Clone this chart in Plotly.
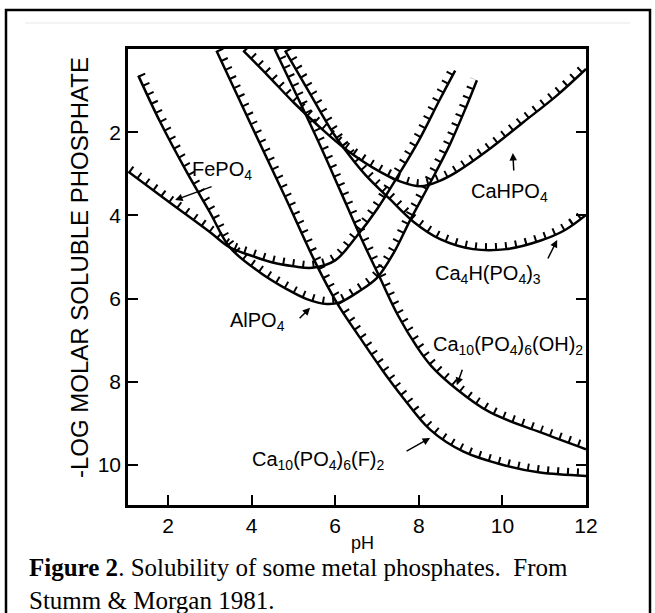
import numpy as np
import plotly.graph_objects as go

# curves: pH vs -log molar soluble phosphate
ph_fepo4 = [1.05, 2.0, 3.0, 3.48, 4.0, 4.5, 5.0, 5.45, 6.0, 6.5, 7.0, 7.5, 8.0, 8.5, 8.87]
y_fepo4 = [2.95, 3.66, 4.4, 4.77, 4.97, 5.13, 5.22, 5.26, 5.08, 4.52, 3.85, 3.05, 2.2, 1.22, 0.52]

ph_alpo4 = [1.29, 1.81, 2.45, 3.0, 3.48, 4.2, 4.84, 5.32, 5.8, 6.11, 6.59, 7.0, 7.4, 7.8, 8.27, 8.75, 9.15, 9.39]
y_alpo4 = [0.64, 1.75, 2.96, 3.92, 4.77, 5.37, 5.77, 6.01, 6.13, 6.09, 5.81, 5.5, 4.9, 4.1, 3.22, 2.28, 1.35, 0.75]

ph_cahpo4 = [3.8, 4.4, 5.0, 5.6, 6.19, 6.9, 7.55, 8.05, 8.5, 8.9, 9.7, 10.5, 11.3, 12.0]
y_cahpo4 = [0.04, 0.65, 1.28, 1.85, 2.36, 2.85, 3.18, 3.3, 3.17, 2.96, 2.4, 1.76, 1.12, 0.48]

ph_ca4h = [4.8, 5.4, 5.95, 6.19, 6.7, 7.31, 7.87, 8.51, 9.3, 10.1, 10.9, 11.5, 12.0]
y_ca4h = [0.04, 1.08, 2.02, 2.36, 3.0, 3.61, 4.15, 4.57, 4.81, 4.81, 4.61, 4.35, 3.99]

ph_hap = [4.55, 5.1, 5.64, 6.11, 6.6, 7.07, 7.5, 7.95, 8.3, 8.9, 9.7, 10.9, 12.0]
y_hap = [0.0, 1.16, 2.32, 3.38, 4.5, 5.5, 6.4, 7.15, 7.62, 8.17, 8.73, 9.21, 9.62]

ph_fap = [3.16, 4.0, 4.8, 5.56, 6.04, 6.6, 7.15, 7.6, 8.27, 9.07, 10.1, 10.9, 12.0]
y_fap = [0.04, 1.85, 3.55, 5.2, 6.1, 6.95, 7.75, 8.35, 9.15, 9.68, 10.02, 10.18, 10.26]

curves = [
    (ph_fepo4, y_fepo4),
    (ph_alpo4, y_alpo4),
    (ph_cahpo4, y_cahpo4),
    (ph_ca4h, y_ca4h),
    (ph_hap, y_hap),
    (ph_fap, y_fap),
]

# label text, label centre (pH, y), arrow tip (pH, y), arrow tail offset in px
labels = [
    ("FePO<sub>4</sub>", 3.29, 2.93, 2.17, 3.63, 38, -14),
    ("AlPO<sub>4</sub>", 4.15, 6.56, 5.40, 6.22, -12, 12),
    ("CaHPO<sub>4</sub>", 10.18, 3.44, 10.25, 2.50, 1, 19),
    ("Ca<sub>4</sub>H(PO<sub>4</sub>)<sub>3</sub>", 9.66, 5.43, 11.31, 4.59, -10, 20),
    ("Ca<sub>10</sub>(PO<sub>4</sub>)<sub>6</sub>(OH)<sub>2</sub>", 10.13, 7.12, 8.91, 8.08, 6, -17),
    ("Ca<sub>10</sub>(PO<sub>4</sub>)<sub>6</sub>(F)<sub>2</sub>", 5.59, 9.88, 8.27, 9.35, -25, 14),
]

X_RANGE = [1.043, 12.0]
Y_RANGE = [10.96, 0.0]
W, H = 655, 613
M = dict(l=128, r=69, t=49, b=108)
PW = W - M["l"] - M["r"]
PH = H - M["t"] - M["b"]
SX = PW / (X_RANGE[1] - X_RANGE[0])
SY = PH / (Y_RANGE[0] - Y_RANGE[1])


def px(x):
    return (x - M["l"]) / PW


def py(y):
    return (H - M["b"] - y) / PH


def hatch_side(xs, ys, off=3.6):
    # shift the curve a few pixels towards the supersaturated (upper) side
    x = np.array(xs, float)
    y = np.array(ys, float)
    dX = np.gradient(x * SX)
    dY = np.gradient(y * SY)
    L = np.hypot(dX, dY)
    nX, nY = dY / L, -dX / L
    flip = nY > 0
    nX[flip] *= -1
    nY[flip] *= -1
    return x + nX * off / SX, y + nY * off / SY


fig = go.Figure()
for xs, ys in curves:
    fig.add_trace(go.Scatter(x=xs, y=ys, mode="lines",
                             line=dict(color="black", width=2.5, shape="spline"),
                             hoverinfo="skip"))
    hx, hy = hatch_side(xs, ys)
    fig.add_trace(go.Scatter(x=hx, y=hy, mode="lines",
                             line=dict(color="black", width=7, shape="spline", dash="2px,8px"),
                             hoverinfo="skip"))

for txt, lx, ly, tx, ty, ax, ay in labels:
    fig.add_annotation(x=lx, y=ly, text=txt, showarrow=False,
                       xanchor="center", yanchor="middle",
                       font=dict(size=20, color="black"))
    fig.add_annotation(x=tx, y=ty, text="", showarrow=True, arrowhead=2,
                       arrowsize=1, arrowwidth=1.5, arrowcolor="black", ax=ax, ay=ay)

fig.add_annotation(x=px(79), y=py(268), xref="paper", yref="paper", text="-LOG MOLAR SOLUBLE PHOSPHATE",
                   textangle=-90, showarrow=False, xanchor="center", yanchor="middle",
                   font=dict(size=24, color="black"))
fig.add_annotation(x=px(362), y=py(543), xref="paper", yref="paper", text="pH",
                   showarrow=False, xanchor="center", yanchor="middle",
                   font=dict(size=18, color="black"))

cap_font = dict(family="Liberation Serif, Times New Roman, serif", size=25, color="black")
fig.add_annotation(x=px(27), y=py(567), xref="paper", yref="paper", xanchor="left", yanchor="middle",
                   text="<b>Figure 2</b>. Solubility of some metal phosphates.  From",
                   showarrow=False, font=cap_font)
fig.add_annotation(x=px(27), y=py(600), xref="paper", yref="paper", xanchor="left", yanchor="middle",
                   text="Stumm &amp; Morgan 1981.", showarrow=False, font=cap_font)

# outer frame of the figure and the faint edge of the scanned image
fig.add_shape(type="rect", xref="paper", yref="paper",
              x0=px(6), x1=px(650), y0=py(640), y1=py(10),
              line=dict(color="black", width=2.5))
fig.add_shape(type="line", xref="paper", yref="paper",
              x0=px(25), x1=px(630), y0=py(23), y1=py(23),
              line=dict(color="#efefef", width=1.5))

fig.update_layout(
    width=W, height=H,
    margin=M,
    paper_bgcolor="white",
    plot_bgcolor="white",
    showlegend=False,
    font=dict(family="Liberation Sans, Arial, sans-serif", color="black", size=21),
    xaxis=dict(range=X_RANGE, tickvals=[2, 4, 6, 8, 10, 12], ticks="inside", ticklen=10, tickwidth=2,
               showline=True, linewidth=2.5, linecolor="black", mirror=True, automargin=False,
               showgrid=False, zeroline=False, tickcolor="black"),
    yaxis=dict(range=Y_RANGE, tickvals=[2, 4, 6, 8, 10], ticks="inside", ticklen=10, tickwidth=2,
               showline=True, linewidth=2.5, linecolor="black", mirror="allticks", automargin=False,
               showgrid=False, zeroline=False, tickcolor="black"),
)

# the page body keeps its default 8px margin otherwise, which shifts the figure
fig.write_html("out.html", config={"displayModeBar": False},
               post_script="document.body.style.margin='0px';document.body.style.overflow='hidden';")
